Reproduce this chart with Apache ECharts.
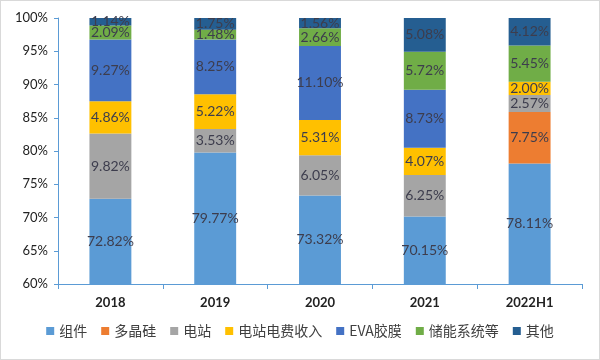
<!DOCTYPE html>
<html><head><meta charset="utf-8">
<script src="https://cdn.jsdelivr.net/npm/echarts@6/dist/echarts.min.js"></script>
<style>html,body{margin:0;padding:0;background:#fff;}#c{width:598px;height:358px;border:1px solid #d9d9d9;}</style>
</head><body><div id="c"></div>
<script>
const categories = ['2018','2019','2020','2021','2022H1'];
const zujian   = [72.82, 79.77, 73.32, 70.15, 78.11];
const duojinggui = [null, null, null, null, 7.75];
const dianzhan = [9.82, 3.53, 6.05, 6.25, 2.57];
const dianfei  = [4.86, 5.22, 5.31, 4.07, 2.00];
const eva      = [9.27, 8.25, 11.10, 8.73, null];
const chuneng  = [2.09, 1.48, 2.66, 5.72, 5.45];
const qita     = [1.14, 1.75, 1.56, 5.08, 4.12];
const yTicks = [60, 65, 70, 75, 80, 85, 90, 95, 100];

const names = ['组件','多晶硅','电站','电站电费收入','EVA胶膜','储能系统等','其他'];
const datas = [zujian, duojinggui, dianzhan, dianfei, eva, chuneng, qita];
const colors = ['#5B9BD5','#ED7D31','#A5A5A5','#FFC000','#4472C4','#70AD47','#255E91'];

const chart = echarts.init(document.getElementById('c'));
chart.setOption({
  animation: false,
  color: colors,
  textStyle: { fontFamily: 'Lato, "Noto Sans CJK SC", sans-serif' },
  grid: { left: 57, right: 17, top: 17, bottom: 75 },
  legend: {
    bottom: 16, left: 'center', itemWidth: 8, itemHeight: 8, itemGap: 14,
    icon: 'rect',
    textStyle: { fontSize: 14, color: '#404040', fontFamily: '"Noto Sans CJK SC", sans-serif' },
    data: names
  },
  xAxis: {
    type: 'category', data: categories,
    axisLine: { lineStyle: { color: '#5B9BD5', width: 1 } },
    axisTick: { show: true, length: 5, lineStyle: { color: '#5B9BD5' } },
    axisLabel: { fontSize: 13, fontWeight: 'bold', color: '#222', margin: 12 }
  },
  yAxis: {
    type: 'value', min: 60, max: 100, interval: 5,
    axisLine: { show: true, lineStyle: { color: '#5B9BD5' } },
    axisTick: { show: true, length: 4, lineStyle: { color: '#5B9BD5' } },
    splitLine: { show: false },
    axisLabel: { fontSize: 13, color: '#222', margin: 10,
      formatter: v => yTicks.includes(v) ? v + '%' : '' }
  },
  series: names.map((n, i) => ({
    name: n, type: 'bar', stack: 'total', barWidth: '40%',
    data: datas[i],
    itemStyle: { color: colors[i] },
    label: { show: true, position: 'inside', fontSize: 14, color: '#3d3d4d',
      fontFamily: 'Lato, sans-serif',
      formatter: p => p.value == null ? '' : p.value.toFixed(2) + '%' }
  }))
});
</script></body></html>
